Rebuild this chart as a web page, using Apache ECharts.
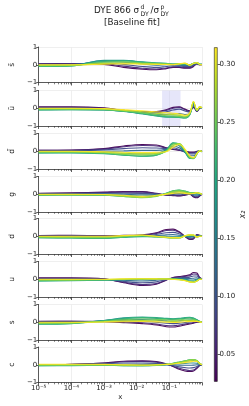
<!DOCTYPE html>
<html><head><meta charset="utf-8">
<script src="https://cdn.jsdelivr.net/npm/echarts@6/dist/echarts.min.js"></script>
<style>html,body{margin:0;padding:0;background:#fff}#c{width:249px;height:406px}</style>
</head><body><div id="c"></div>
<script>
// ---------- data ----------
const xValues = [1e-5, 1e-4, 1e-3, 4e-3, 0.015, 0.04, 0.08, 0.13, 0.2, 0.3, 0.42, 0.55, 0.7, 0.85, 1.0];
const x2Values = [0.026, 0.058, 0.09, 0.122, 0.154, 0.186, 0.218, 0.25, 0.282, 0.315];
const partons = ['s\u0304', 'u\u0304', 'd\u0304', 'g', 'd', 'u', 's', 'c'];

const sbar = [
  [0.06, 0.07, 0.02, -0.15, -0.25, -0.28, -0.22, -0.15, -0.15, -0.2, -0.2, -0.1, 0.05, 0.0, 0.0],
  [0.05, 0.06, 0.05, -0.08, -0.2, -0.24, -0.18, -0.12, -0.12, -0.16, -0.16, -0.06, 0.06, 0.0, 0.01],
  [0.03, 0.04, 0.1, 0.02, -0.1, -0.15, -0.1, -0.06, -0.08, -0.1, -0.1, -0.02, 0.07, 0.01, 0.01],
  [-0.02, 0.0, 0.18, 0.15, 0.05, -0.02, 0.0, 0.0, -0.03, -0.04, -0.04, 0.02, 0.08, 0.01, 0.02],
  [-0.06, -0.04, 0.24, 0.24, 0.14, 0.08, 0.06, 0.03, 0.02, 0.0, -0.01, 0.05, 0.1, 0.02, 0.02],
  [-0.1, -0.07, 0.25, 0.25, 0.16, 0.1, 0.08, 0.04, 0.05, 0.03, 0.0, 0.07, 0.12, 0.02, 0.02],
  [-0.09, -0.07, 0.2, 0.22, 0.14, 0.09, 0.07, 0.03, 0.06, 0.05, 0.0, 0.08, 0.13, 0.02, 0.01],
  [-0.06, -0.04, 0.14, 0.16, 0.1, 0.06, 0.05, 0.02, 0.06, 0.07, -0.01, 0.08, 0.13, 0.02, 0.01],
  [-0.03, -0.02, 0.08, 0.1, 0.06, 0.04, 0.03, 0.01, 0.06, 0.08, -0.02, 0.08, 0.12, 0.02, 0.0],
  [0.0, 0.0, 0.03, 0.05, 0.03, 0.02, 0.01, 0.0, 0.05, 0.09, -0.03, 0.07, 0.11, 0.02, 0.0]
];
const ubar = [
  [0.08, 0.08, 0.02, -0.12, -0.2, -0.18, -0.08, 0.05, 0.08, -0.05, -0.15, 0.05, -0.18, 0.0, 0.05],
  [0.06, 0.06, 0.0, -0.12, -0.2, -0.2, -0.12, 0.0, 0.04, -0.08, -0.18, 0.1, -0.17, 0.02, 0.04],
  [0.03, 0.03, -0.03, -0.13, -0.22, -0.25, -0.2, -0.1, -0.05, -0.15, -0.22, 0.15, -0.16, 0.03, 0.04],
  [-0.02, -0.02, -0.06, -0.15, -0.26, -0.33, -0.35, -0.32, -0.3, -0.35, -0.3, 0.2, -0.15, 0.04, 0.03],
  [-0.06, -0.05, -0.08, -0.17, -0.3, -0.4, -0.45, -0.45, -0.45, -0.5, -0.35, 0.25, -0.14, 0.05, 0.03],
  [-0.1, -0.08, -0.1, -0.18, -0.32, -0.43, -0.5, -0.5, -0.52, -0.55, -0.38, 0.28, -0.13, 0.06, 0.02],
  [-0.09, -0.08, -0.09, -0.17, -0.3, -0.42, -0.48, -0.5, -0.52, -0.55, -0.36, 0.32, -0.12, 0.07, 0.02],
  [-0.06, -0.05, -0.07, -0.15, -0.26, -0.36, -0.42, -0.44, -0.46, -0.5, -0.33, 0.35, -0.12, 0.08, 0.03],
  [-0.03, -0.02, -0.04, -0.12, -0.2, -0.28, -0.34, -0.36, -0.4, -0.45, -0.3, 0.37, -0.11, 0.08, 0.03],
  [0.0, 0.0, -0.02, -0.08, -0.14, -0.2, -0.25, -0.28, -0.32, -0.4, -0.27, 0.38, -0.1, 0.08, 0.04]
];
const dbar = [
  [0.06, 0.07, 0.15, 0.3, 0.38, 0.35, 0.2, 0.1, 0.05, 0.0, -0.05, -0.05, 0.0, 0.02, 0.0],
  [0.05, 0.06, 0.12, 0.25, 0.32, 0.3, 0.18, 0.12, 0.06, -0.02, -0.08, -0.08, -0.02, 0.03, 0.0],
  [0.03, 0.04, 0.08, 0.15, 0.2, 0.18, 0.15, 0.2, 0.1, -0.05, -0.15, -0.15, -0.05, 0.03, 0.0],
  [-0.02, -0.01, 0.0, 0.02, 0.05, 0.05, 0.12, 0.3, 0.2, -0.05, -0.25, -0.25, -0.08, 0.02, -0.02],
  [-0.06, -0.05, -0.08, -0.12, -0.15, -0.12, 0.08, 0.42, 0.3, -0.05, -0.35, -0.35, -0.12, 0.02, -0.03],
  [-0.1, -0.09, -0.14, -0.22, -0.28, -0.22, 0.05, 0.48, 0.38, -0.02, -0.4, -0.4, -0.15, 0.02, -0.03],
  [-0.09, -0.08, -0.13, -0.22, -0.28, -0.22, 0.03, 0.46, 0.42, 0.02, -0.4, -0.42, -0.15, 0.02, -0.02],
  [-0.06, -0.05, -0.1, -0.18, -0.22, -0.18, 0.0, 0.4, 0.43, 0.05, -0.35, -0.4, -0.15, 0.02, -0.02],
  [-0.03, -0.02, -0.06, -0.12, -0.15, -0.12, -0.02, 0.32, 0.42, 0.08, -0.3, -0.38, -0.14, 0.02, -0.01],
  [0.0, 0.0, -0.03, -0.06, -0.08, -0.06, -0.03, 0.22, 0.38, 0.12, -0.25, -0.35, -0.12, 0.03, 0.0]
];
const gluon = [
  [0.05, 0.08, 0.12, 0.15, 0.15, 0.05, -0.05, -0.08, -0.1, -0.05, 0.0, -0.15, -0.2, -0.1, 0.0],
  [0.04, 0.06, 0.1, 0.12, 0.12, 0.04, -0.04, -0.06, -0.08, -0.04, 0.0, -0.12, -0.17, -0.08, 0.0],
  [0.02, 0.04, 0.06, 0.06, 0.05, 0.02, -0.02, -0.02, -0.03, 0.0, 0.02, -0.08, -0.12, -0.05, 0.0],
  [0.0, 0.01, 0.02, 0.0, -0.03, -0.02, 0.0, 0.05, 0.05, 0.05, 0.05, -0.03, -0.06, -0.02, 0.0],
  [-0.03, -0.02, -0.02, -0.06, -0.1, -0.06, 0.03, 0.12, 0.15, 0.12, 0.08, 0.02, 0.0, 0.0, 0.0],
  [-0.05, -0.04, -0.05, -0.1, -0.15, -0.08, 0.05, 0.18, 0.22, 0.16, 0.1, 0.06, 0.05, 0.03, 0.0],
  [-0.05, -0.04, -0.05, -0.12, -0.18, -0.1, 0.05, 0.2, 0.24, 0.18, 0.1, 0.08, 0.08, 0.04, 0.0],
  [-0.03, -0.03, -0.04, -0.12, -0.2, -0.12, 0.04, 0.18, 0.22, 0.16, 0.08, 0.08, 0.1, 0.05, 0.0],
  [-0.02, -0.02, -0.03, -0.1, -0.18, -0.1, 0.02, 0.12, 0.15, 0.1, 0.05, 0.06, 0.1, 0.05, 0.0],
  [0.0, 0.0, -0.01, -0.06, -0.12, -0.06, 0.0, 0.05, 0.08, 0.05, 0.02, 0.04, 0.08, 0.04, 0.0]
];
const down = [
  [0.04, 0.05, 0.03, 0.05, 0.08, 0.2, 0.38, 0.4, 0.25, 0.0, -0.18, -0.15, 0.1, 0.05, 0.0],
  [0.03, 0.04, 0.02, 0.04, 0.06, 0.16, 0.32, 0.34, 0.22, 0.0, -0.15, -0.12, 0.08, 0.04, 0.0],
  [0.01, 0.02, 0.0, 0.03, 0.04, 0.1, 0.2, 0.22, 0.14, 0.0, -0.1, -0.08, 0.05, 0.03, 0.0],
  [-0.02, -0.03, -0.03, 0.0, 0.02, 0.04, 0.08, 0.1, 0.06, 0.0, -0.05, -0.03, 0.02, 0.02, 0.0],
  [-0.05, -0.07, -0.08, -0.04, 0.0, 0.0, 0.0, 0.0, 0.0, 0.0, -0.02, 0.0, 0.0, 0.02, 0.0],
  [-0.08, -0.1, -0.12, -0.06, -0.02, -0.03, -0.05, -0.06, -0.05, 0.02, 0.02, 0.03, -0.02, 0.0, 0.0],
  [-0.08, -0.1, -0.11, -0.05, 0.0, -0.04, -0.07, -0.09, -0.08, 0.02, 0.05, 0.05, -0.03, 0.0, 0.0],
  [-0.06, -0.07, -0.08, -0.02, 0.03, -0.03, -0.08, -0.1, -0.1, 0.02, 0.07, 0.06, -0.05, 0.0, 0.0],
  [-0.03, -0.04, -0.04, 0.01, 0.05, -0.02, -0.07, -0.1, -0.1, 0.02, 0.08, 0.07, -0.05, 0.0, 0.0],
  [0.0, 0.0, 0.0, 0.04, 0.07, 0.0, -0.05, -0.08, -0.08, 0.02, 0.08, 0.07, -0.04, 0.0, 0.0]
];
const up = [
  [0.08, 0.08, 0.02, -0.2, -0.35, -0.28, -0.05, 0.1, 0.15, 0.2, 0.25, 0.38, 0.35, 0.1, 0.02],
  [0.06, 0.06, 0.01, -0.17, -0.3, -0.24, -0.04, 0.08, 0.12, 0.16, 0.2, 0.3, 0.28, 0.08, 0.02],
  [0.03, 0.03, 0.0, -0.12, -0.2, -0.15, -0.02, 0.05, 0.08, 0.1, 0.12, 0.18, 0.18, 0.05, 0.02],
  [-0.02, -0.02, -0.02, -0.06, -0.1, -0.06, 0.0, 0.03, 0.04, 0.04, 0.04, 0.06, 0.08, 0.03, 0.01],
  [-0.06, -0.05, -0.04, -0.03, -0.03, 0.0, 0.02, 0.02, 0.02, 0.0, -0.04, -0.04, 0.0, 0.02, 0.0],
  [-0.1, -0.08, -0.05, -0.02, 0.0, 0.02, 0.03, 0.02, 0.0, -0.04, -0.1, -0.1, -0.05, 0.0, 0.0],
  [-0.09, -0.07, -0.04, -0.01, 0.01, 0.03, 0.03, 0.02, 0.0, -0.05, -0.12, -0.14, -0.08, 0.0, 0.0],
  [-0.06, -0.05, -0.03, 0.0, 0.02, 0.03, 0.03, 0.01, -0.01, -0.06, -0.14, -0.16, -0.1, 0.0, 0.0],
  [-0.03, -0.02, -0.01, 0.01, 0.02, 0.02, 0.02, 0.0, -0.02, -0.07, -0.15, -0.17, -0.1, 0.0, 0.0],
  [0.0, 0.0, 0.0, 0.02, 0.03, 0.02, 0.01, -0.01, -0.03, -0.08, -0.15, -0.17, -0.1, 0.0, 0.0]
];
const strange = [
  [0.05, 0.06, 0.03, -0.02, -0.08, -0.15, -0.25, -0.27, -0.22, -0.15, -0.1, -0.05, 0.0, 0.02, 0.0],
  [0.04, 0.05, 0.04, 0.02, -0.03, -0.1, -0.18, -0.2, -0.16, -0.1, -0.06, -0.02, 0.02, 0.02, 0.0],
  [0.02, 0.03, 0.06, 0.08, 0.06, 0.0, -0.06, -0.08, -0.05, -0.02, 0.02, 0.04, 0.05, 0.03, 0.0],
  [-0.03, -0.01, 0.08, 0.15, 0.15, 0.12, 0.08, 0.06, 0.08, 0.1, 0.12, 0.12, 0.08, 0.03, 0.0],
  [-0.07, -0.05, 0.1, 0.22, 0.25, 0.22, 0.18, 0.16, 0.18, 0.22, 0.24, 0.2, 0.12, 0.04, 0.0],
  [-0.11, -0.08, 0.1, 0.25, 0.3, 0.27, 0.22, 0.2, 0.22, 0.26, 0.28, 0.24, 0.14, 0.05, 0.0],
  [-0.1, -0.07, 0.08, 0.2, 0.26, 0.24, 0.2, 0.18, 0.2, 0.24, 0.26, 0.22, 0.12, 0.04, 0.0],
  [-0.07, -0.05, 0.05, 0.14, 0.18, 0.16, 0.14, 0.12, 0.14, 0.17, 0.18, 0.16, 0.1, 0.03, 0.0],
  [-0.04, -0.02, 0.03, 0.08, 0.1, 0.08, 0.06, 0.05, 0.07, 0.1, 0.1, 0.1, 0.07, 0.02, 0.0],
  [0.0, 0.0, 0.01, 0.03, 0.04, 0.02, 0.0, -0.01, 0.0, 0.03, 0.04, 0.05, 0.05, 0.02, 0.0]
];
const charm = [
  [0.0, 0.02, 0.1, 0.2, 0.22, 0.18, 0.05, -0.1, -0.25, -0.35, -0.38, -0.35, -0.2, -0.05, 0.0],
  [0.0, 0.02, 0.09, 0.17, 0.19, 0.15, 0.04, -0.08, -0.2, -0.28, -0.32, -0.3, -0.17, -0.04, 0.0],
  [0.0, 0.01, 0.06, 0.1, 0.1, 0.08, 0.02, -0.04, -0.12, -0.16, -0.18, -0.16, -0.1, -0.02, 0.0],
  [-0.02, -0.01, 0.02, 0.03, 0.02, 0.02, 0.0, 0.0, -0.02, -0.03, -0.03, -0.02, 0.0, 0.0, 0.0],
  [-0.04, -0.03, -0.02, -0.03, -0.03, -0.02, 0.0, 0.04, 0.06, 0.08, 0.1, 0.1, 0.08, 0.03, 0.0],
  [-0.06, -0.05, -0.04, -0.05, -0.06, -0.04, 0.0, 0.06, 0.12, 0.18, 0.22, 0.24, 0.18, 0.06, 0.0],
  [-0.05, -0.04, -0.03, -0.05, -0.06, -0.03, 0.02, 0.08, 0.15, 0.22, 0.28, 0.3, 0.22, 0.08, 0.0],
  [-0.03, -0.02, -0.02, -0.04, -0.05, -0.02, 0.02, 0.08, 0.15, 0.22, 0.28, 0.3, 0.24, 0.08, 0.0],
  [0.0, 0.0, 0.0, -0.02, -0.03, -0.01, 0.02, 0.06, 0.12, 0.18, 0.24, 0.27, 0.22, 0.08, 0.0],
  [0.03, 0.03, 0.02, 0.0, -0.01, 0.0, 0.02, 0.04, 0.08, 0.12, 0.16, 0.2, 0.18, 0.06, 0.0]
];
const panels = [sbar, ubar, dbar, gluon, down, up, strange, charm];

const xTickLabels = [1e-5, 1e-4, 1e-3, 1e-2, 1e-1];
const xMajorTicks = [1e-5, 1e-4, 1e-3, 1e-2, 1e-1, 1];
const yTicks = [-1, 0, 1];
const cbTicks = [0.05, 0.10, 0.15, 0.20, 0.25, 0.30];
const cbRange = [0.026, 0.315];
const bandRange = [0.06, 0.22];

// ---------- styling helpers ----------
const FONT = 'DejaVu Sans';
const viridis = ['#440154','#482475','#414487','#355f8d','#2a788e','#21918c','#22a884','#44bf70','#7ad151','#bddf26','#fde725'];
function hex(c){return [1,3,5].map(i=>parseInt(c.substr(i,2),16));}
function cmap(t){
  t = Math.max(0, Math.min(1, t));
  const f = t*(viridis.length-1), i = Math.min(Math.floor(f), viridis.length-2), r = f-i;
  const a = hex(viridis[i]), b = hex(viridis[i+1]);
  return 'rgb(' + a.map((v,k)=>Math.round(v+(b[k]-v)*r)).join(',') + ')';
}
const minorTicks = [];
for (let e = -5; e <= -1; e++) for (let k = 2; k <= 9; k++) minorTicks.push(k*Math.pow(10, e));
const sup = {'-':'\u207b','0':'\u2070','1':'\u00b9','2':'\u00b2','3':'\u00b3','4':'\u2074','5':'\u2075','6':'\u2076','7':'\u2077','8':'\u2078','9':'\u2079'};
function logLabel(v){
  const e = Math.round(Math.log10(v));
  if (e === 0) return '';
  return '10' + String(e).split('').map(ch=>sup[ch]).join('');
}

const tops = [47, 90.5, 133.5, 176.5, 218.5, 261.5, 304.5, 347];
const grids = tops.map(t => ({left: 27, width: 175, top: t, height: 35.5}));
grids.push({left: 214, width: 3.6, top: 47.3, height: 334.4});

const axisColor = '#333';
const gridColor = '#ebebeb';
const xAxes = [], yAxes = [], series = [];
panels.forEach((rows, p) => {
  const last = p === panels.length - 1;
  xAxes.push({
    type: 'log', logBase: 10, gridIndex: p, min: 1e-5, max: 1, position: 'bottom',
    axisLine: {show: true, onZero: false, lineStyle: {color: axisColor, width: 0.8}},
    axisTick: {show: true, customValues: xMajorTicks, length: 3, lineStyle: {color: axisColor, width: 0.8}},
    axisLabel: {show: last, customValues: xTickLabels, formatter: logLabel, fontSize: 7, color: '#222', margin: 2.5, fontFamily: FONT},
    splitLine: {show: true, lineStyle: {color: gridColor, width: 0.8}},
    name: last ? 'x' : '', nameLocation: 'middle', nameGap: 11.5,
    nameTextStyle: {fontSize: 7, color: '#222', fontFamily: FONT}
  });
  xAxes.push({
    type: 'log', logBase: 10, gridIndex: p, min: 1e-5, max: 1, position: 'bottom',
    axisLine: {show: false, onZero: false},
    axisTick: {show: true, customValues: minorTicks, length: 1.8, lineStyle: {color: axisColor, width: 0.6}},
    axisLabel: {show: false}, splitLine: {show: false}
  });
  yAxes.push({
    type: 'value', gridIndex: p, min: -1, max: 1, interval: 1,
    axisLine: {show: true, onZero: false, lineStyle: {color: axisColor, width: 0.8}},
    axisTick: {show: true, length: 2.5, lineStyle: {color: axisColor, width: 0.8}},
    axisLabel: {fontSize: 7, color: '#222', margin: 1.5, fontFamily: FONT,
      formatter: v => v < 0 ? '\u2212' + Math.abs(v) : String(v)},
    splitLine: {show: true, lineStyle: {color: gridColor, width: 0.8}},
    name: partons[p], nameLocation: 'middle', nameGap: 14,
    nameTextStyle: {fontSize: 7.5, color: '#222', fontFamily: FONT}
  });
  rows.forEach((vals, i) => {
    const s = {
      type: 'line', xAxisIndex: 2*p, yAxisIndex: p,
      data: xValues.map((x, j) => [x, vals[j]]),
      smooth: 0.35, symbol: 'none', silent: true, animation: false,
      lineStyle: {width: 1.1, color: cmap((x2Values[i]-cbRange[0])/(cbRange[1]-cbRange[0])), opacity: 0.95},
      z: 2 + i
    };
    if (p === 1 && i === 0) {
      s.markArea = {silent: true, itemStyle: {color: 'rgba(200,200,245,0.45)'},
        data: [[{xAxis: bandRange[0]}, {xAxis: bandRange[1]}]]};
    }
    series.push(s);
  });
});

// colorbar
xAxes.push({type: 'category', gridIndex: 8, data: ['cb'], show: false});
yAxes.push({
  type: 'value', gridIndex: 8, min: cbRange[0], max: cbRange[1], position: 'right',
  axisLine: {show: false},
  axisTick: {show: true, customValues: cbTicks, length: 2.5, lineStyle: {color: axisColor, width: 0.8}},
  axisLabel: {customValues: cbTicks, formatter: v => v.toFixed(2), fontSize: 7, color: '#222', margin: 2, fontFamily: FONT},
  splitLine: {show: false},
  name: 'x\u2082', nameLocation: 'middle', nameGap: 17,
  nameTextStyle: {fontSize: 8, fontStyle: 'italic', color: '#222', fontFamily: FONT}
});
const cbIdx = xAxes.length - 1;
series.push({type: 'bar', xAxisIndex: cbIdx, yAxisIndex: 8, stack: 'cb', data: [cbRange[0]],
  barWidth: '100%', silent: true, itemStyle: {color: 'rgba(0,0,0,0)'}});
series.push({type: 'bar', xAxisIndex: cbIdx, yAxisIndex: 8, stack: 'cb', data: [cbRange[1]-cbRange[0]],
  barWidth: '100%', silent: true,
  itemStyle: {borderColor: '#222', borderWidth: 0.6,
    color: {type: 'linear', x: 0, y: 1, x2: 0, y2: 0,
      colorStops: viridis.map((c, k) => ({offset: k/(viridis.length-1), color: c}))}}});

// title pieces
const tf = (size) => size + 'px "' + FONT + '"';
const graphic = [
  {type: 'text', left: 94, top: 6, style: {text: 'DYE 866 \u03c3', font: tf(8.8), fill: '#222'}},
  {type: 'text', left: 140.5, top: 4, style: {text: 'd', font: tf(6.2), fill: '#222'}},
  {type: 'text', left: 140.5, top: 11, style: {text: 'DY', font: tf(6.2), fill: '#222'}},
  {type: 'text', left: 150.5, top: 6, style: {text: '/\u03c3', font: tf(8.8), fill: '#222'}},
  {type: 'text', left: 160.5, top: 4, style: {text: 'p', font: tf(6.2), fill: '#222'}},
  {type: 'text', left: 160.5, top: 11, style: {text: 'DY', font: tf(6.2), fill: '#222'}},
  {type: 'text', left: 104, top: 18, style: {text: '[Baseline fit]', font: tf(8.8), fill: '#222'}}
];

const chart = echarts.init(document.getElementById('c'), null, {renderer: 'canvas'});
chart.setOption({
  animation: false,
  backgroundColor: '#fff',
  textStyle: {fontFamily: FONT},
  grid: grids, xAxis: xAxes, yAxis: yAxes, series: series, graphic: graphic
});
</script></body></html>
